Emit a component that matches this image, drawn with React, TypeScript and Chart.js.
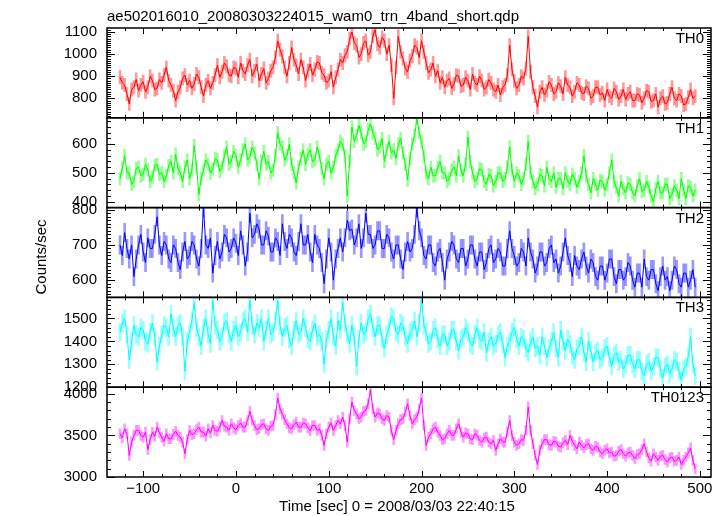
import React, { useEffect, useRef } from "react";
import { Chart, registerables } from "chart.js";

Chart.register(...registerables);

const chartTitle = "ae502016010_20080303224015_wam0_trn_4band_short.qdp";
const xTitle = "Time [sec] 0 = 2008/03/03 22:40:15";
const yTitle = "Counts/sec";

const times = [
  -125, -122.5, -120, -117.5, -115, -112.5, -110, -107.5, -105, -102.5, -100, -97.5, -95, -92.5, -90, -87.5, -85, -82.5, -80, -77.5,
  -75, -72.5, -70, -67.5, -65, -62.5, -60, -57.5, -55, -52.5, -50, -47.5, -45, -42.5, -40, -37.5, -35, -32.5, -30, -27.5,
  -25, -22.5, -20, -17.5, -15, -12.5, -10, -7.5, -5, -2.5, 0, 2.5, 5, 7.5, 10, 12.5, 15, 17.5, 20, 22.5,
  25, 27.5, 30, 32.5, 35, 37.5, 40, 42.5, 45, 47.5, 50, 52.5, 55, 57.5, 60, 62.5, 65, 67.5, 70, 72.5,
  75, 77.5, 80, 82.5, 85, 87.5, 90, 92.5, 95, 97.5, 100, 102.5, 105, 107.5, 110, 112.5, 115, 117.5, 120, 122.5,
  125, 127.5, 130, 132.5, 135, 137.5, 140, 142.5, 145, 147.5, 150, 152.5, 155, 157.5, 160, 162.5, 165, 167.5, 170, 172.5,
  175, 177.5, 180, 182.5, 185, 187.5, 190, 192.5, 195, 197.5, 200, 202.5, 205, 207.5, 210, 212.5, 215, 217.5, 220, 222.5,
  225, 227.5, 230, 232.5, 235, 237.5, 240, 242.5, 245, 247.5, 250, 252.5, 255, 257.5, 260, 262.5, 265, 267.5, 270, 272.5,
  275, 277.5, 280, 282.5, 285, 287.5, 290, 292.5, 295, 297.5, 300, 302.5, 305, 307.5, 310, 312.5, 315, 317.5, 320, 322.5,
  325, 327.5, 330, 332.5, 335, 337.5, 340, 342.5, 345, 347.5, 350, 352.5, 355, 357.5, 360, 362.5, 365, 367.5, 370, 372.5,
  375, 377.5, 380, 382.5, 385, 387.5, 390, 392.5, 395, 397.5, 400, 402.5, 405, 407.5, 410, 412.5, 415, 417.5, 420, 422.5,
  425, 427.5, 430, 432.5, 435, 437.5, 440, 442.5, 445, 447.5, 450, 452.5, 455, 457.5, 460, 462.5, 465, 467.5, 470, 472.5,
  475, 477.5, 480, 482.5, 485, 487.5, 490, 492.5, 495,
];

const th0 = [
  895, 870, 860, 820, 775, 840, 850, 885, 835, 860, 875, 830, 850, 900, 880, 840, 845, 885, 870, 905,
  940, 880, 860, 835, 790, 830, 850, 890, 905, 860, 880, 845, 865, 910, 895, 850, 810, 860, 880, 845,
  870, 905, 950, 895, 920, 960, 945, 905, 900, 940, 935, 895, 960, 925, 910, 950, 975, 900, 925, 955,
  880, 910, 935, 870, 890, 925, 940, 985, 1060, 1020, 990, 940, 900, 960, 1030, 975, 950, 910, 975, 940,
  880, 925, 955, 905, 930, 965, 960, 915, 905, 870, 880, 920, 850, 895, 930, 975, 960, 995, 1010, 1070,
  1100, 1050, 1040, 985, 1000, 1050, 1060, 995, 1010, 1080, 1110, 1045, 1030, 1075, 1060, 1000, 1040, 950, 800, 940,
  1080, 1010, 980, 935, 920, 970, 990, 1040, 1030, 985, 1060, 1010, 960, 915, 930, 960, 900, 925, 870, 895,
  850, 880, 890, 845, 865, 905, 900, 855, 860, 895, 880, 840, 910, 870, 860, 900, 880, 840, 850, 885,
  870, 840, 830, 860, 815, 850, 860, 905, 1040, 930, 880, 845, 860, 900, 890, 935, 1080, 920, 850, 810,
  760, 830, 850, 815, 835, 875, 860, 820, 830, 870, 855, 820, 895, 860, 850, 810, 830, 870, 860, 825,
  820, 855, 845, 800, 810, 850, 850, 815, 825, 790, 840, 810, 800, 845, 830, 795, 810, 840, 795, 820,
  830, 790, 790, 820, 815, 780, 800, 835, 830, 785, 790, 820, 760, 800, 810, 775, 780, 820, 850, 800,
  790, 820, 810, 770, 775, 805, 840, 800, 810,
];

const th1 = [
  480, 515, 560, 500, 500, 460, 470, 515, 520, 490, 495, 530, 510, 470, 485, 525, 530, 495, 500, 470,
  490, 525, 540, 500, 565, 515, 500, 470, 520, 545, 480, 510, 595, 520, 425, 480, 510, 545, 530, 500,
  515, 550, 545, 505, 520, 560, 590, 530, 540, 575, 560, 520, 545, 580, 600, 545, 555, 590, 570, 530,
  480, 540, 575, 530, 540, 500, 510, 560, 640, 600, 590, 545, 560, 600, 530, 500, 465, 520, 550, 580,
  530, 565, 580, 540, 545, 590, 560, 515, 480, 530, 540, 500, 520, 560, 580, 610, 600, 560, 420, 540,
  660, 610, 630, 665, 640, 600, 610, 650, 670, 640, 620, 580, 590, 620, 540, 580, 610, 570, 580, 550,
  600, 620, 570, 530, 475, 550, 600, 630, 690, 640, 610, 560, 500, 480, 520, 490, 490, 520, 540, 500,
  500, 470, 480, 510, 520, 490, 560, 510, 490, 530, 625, 540, 500, 470, 480, 515, 510, 470, 460, 495,
  490, 455, 470, 500, 500, 470, 480, 520, 590, 510, 470, 500, 490, 460, 480, 530, 610, 500, 470, 445,
  460, 495, 490, 455, 520, 480, 470, 500, 450, 480, 480, 445, 500, 470, 460, 495, 480, 450, 470, 500,
  560, 490, 460, 430, 480, 460, 440, 475, 470, 440, 460, 500, 545, 470, 450, 420, 470, 445, 430, 465,
  460, 430, 420, 455, 480, 435, 440, 470, 450, 420, 400, 445, 470, 430, 430, 460, 460, 410, 425, 455,
  440, 410, 480, 440, 410, 455, 450, 420, 440,
];

const th2 = [
  700, 670, 735, 690, 660, 700, 610, 660, 700, 730, 680, 650, 720, 690, 690, 730, 780, 700, 670, 710,
  700, 660, 650, 700, 690, 650, 630, 680, 710, 660, 670, 710, 700, 660, 640, 690, 805, 700, 690, 720,
  620, 670, 710, 660, 680, 730, 720, 680, 690, 720, 705, 670, 740, 700, 640, 680, 790, 720, 730, 760,
  745, 700, 700, 740, 725, 680, 680, 720, 710, 670, 760, 710, 690, 730, 720, 680, 670, 710, 760, 700,
  700, 730, 680, 650, 730, 700, 690, 650, 590, 660, 720, 680, 600, 660, 690, 720, 680, 720, 770, 740,
  745, 700, 720, 760, 690, 720, 790, 730, 730, 690, 700, 740, 740, 690, 690, 730, 720, 680, 660, 700,
  700, 660, 630, 680, 710, 680, 690, 730, 805, 740, 720, 670, 660, 700, 700, 650, 640, 680, 690, 650,
  600, 660, 680, 710, 700, 660, 650, 690, 690, 640, 660, 700, 700, 660, 640, 680, 680, 630, 650, 690,
  700, 650, 660, 690, 680, 640, 640, 690, 740, 690, 670, 640, 650, 690, 680, 640, 720, 680, 660, 620,
  640, 680, 680, 640, 650, 690, 700, 650, 660, 620, 640, 680, 720, 670, 650, 610, 670, 640, 630, 660,
  680, 640, 620, 660, 650, 610, 600, 640, 640, 600, 620, 660, 660, 610, 590, 630, 630, 600, 610, 650,
  640, 600, 580, 620, 620, 580, 660, 610, 600, 630, 630, 590, 570, 610, 640, 600, 610, 570, 600, 640,
  630, 590, 580, 620, 620, 580, 600, 630, 580,
];

const th3 = [
  1440, 1480, 1500, 1430, 1320, 1400, 1470, 1430, 1420, 1460, 1450, 1400, 1390, 1440, 1480, 1420, 1310, 1380, 1430, 1470,
  1460, 1420, 1520, 1460, 1420, 1470, 1480, 1420, 1270, 1400, 1440, 1490, 1570, 1460, 1420, 1380, 1460, 1500, 1430, 1390,
  1580, 1470, 1450, 1400, 1420, 1480, 1490, 1430, 1400, 1450, 1470, 1420, 1440, 1490, 1500, 1440, 1580, 1470, 1430, 1480,
  1460, 1500, 1400, 1450, 1500, 1430, 1440, 1490, 1580, 1470, 1420, 1460, 1470, 1410, 1380, 1450, 1490, 1430, 1440, 1500,
  1460, 1410, 1400, 1450, 1480, 1420, 1430, 1400, 1300, 1410, 1450, 1500, 1420, 1380, 1490, 1450, 1570, 1480, 1430, 1390,
  1470, 1420, 1290, 1410, 1480, 1430, 1440, 1500, 1520, 1460, 1420, 1470, 1470, 1410, 1370, 1430, 1460, 1510, 1500, 1440,
  1430, 1480, 1470, 1420, 1390, 1440, 1450, 1490, 1420, 1480, 1590, 1470, 1440, 1390, 1400, 1450, 1460, 1410, 1380, 1430,
  1430, 1380, 1400, 1450, 1450, 1400, 1360, 1410, 1420, 1460, 1440, 1390, 1380, 1430, 1460, 1410, 1400, 1440, 1350, 1400,
  1420, 1380, 1390, 1430, 1440, 1390, 1330, 1380, 1400, 1440, 1460, 1410, 1380, 1420, 1410, 1370, 1350, 1400, 1420, 1370,
  1380, 1340, 1420, 1380, 1330, 1370, 1400, 1440, 1370, 1330, 1450, 1400, 1360, 1410, 1390, 1340, 1320, 1370, 1380, 1420,
  1350, 1310, 1400, 1360, 1310, 1350, 1360, 1320, 1330, 1370, 1380, 1330, 1290, 1340, 1350, 1310, 1320, 1280, 1300, 1340,
  1340, 1300, 1280, 1320, 1320, 1270, 1250, 1300, 1310, 1270, 1290, 1330, 1330, 1280, 1240, 1290, 1300, 1260, 1280, 1320,
  1310, 1270, 1230, 1280, 1290, 1330, 1420, 1300, 1250,
];

const th0123 = [
  3520, 3470, 3580, 3520, 3260, 3420, 3500, 3560, 3560, 3500, 3480, 3540, 3330, 3450, 3540, 3490, 3600, 3530, 3480, 3430,
  3520, 3460, 3460, 3510, 3550, 3500, 3480, 3420, 3280, 3450, 3560, 3510, 3520, 3570, 3600, 3540, 3540, 3490, 3580, 3530,
  3620, 3560, 3550, 3600, 3680, 3610, 3600, 3560, 3640, 3590, 3570, 3620, 3650, 3600, 3600, 3680, 3790, 3680, 3620, 3570,
  3580, 3630, 3640, 3580, 3560, 3610, 3620, 3750, 3950, 3820, 3760, 3690, 3640, 3590, 3580, 3630, 3660, 3600, 3600, 3650,
  3640, 3590, 3560, 3620, 3620, 3560, 3580, 3500, 3380, 3520, 3600, 3650, 3560, 3620, 3680, 3640, 3720, 3620, 3420, 3700,
  3900, 3800, 3760, 3700, 3720, 3790, 3800, 3880, 4050, 3820, 3720, 3770, 3760, 3700, 3680, 3740, 3720, 3560, 3450, 3560,
  3640, 3690, 3700, 3780, 3880, 3740, 3640, 3690, 3720, 3820, 3950, 3620, 3380, 3480, 3520, 3580, 3600, 3540, 3500, 3450,
  3460, 3520, 3560, 3500, 3500, 3580, 3640, 3540, 3480, 3530, 3520, 3460, 3450, 3520, 3500, 3440, 3420, 3470, 3480, 3420,
  3400, 3440, 3320, 3400, 3460, 3420, 3420, 3540, 3680, 3500, 3420, 3380, 3400, 3450, 3440, 3560, 3840, 3560, 3400, 3260,
  3150, 3320, 3400, 3450, 3450, 3390, 3380, 3430, 3420, 3370, 3360, 3410, 3440, 3390, 3500, 3430, 3380, 3340, 3420, 3380,
  3350, 3390, 3400, 3340, 3320, 3370, 3360, 3300, 3280, 3320, 3340, 3290, 3300, 3250, 3260, 3310, 3330, 3280, 3250, 3290,
  3300, 3260, 3220, 3270, 3280, 3330, 3400, 3300, 3230, 3190, 3280, 3240, 3200, 3250, 3260, 3210, 3180, 3230, 3240, 3190,
  3200, 3240, 3150, 3200, 3240, 3290, 3350, 3200, 3100,
];

const panelLabels = ["TH0", "TH1", "TH2", "TH3", "TH0123"];
const series = [th0, th1, th2, th3, th0123];
const errors = [30, 22, 26, 38, 60];
const lineColors = ["#ff0000", "#00ff00", "#0000ff", "#00ffff", "#ff00ff"];
const errColors = [
  "rgba(255,0,0,0.4)",
  "rgba(0,255,0,0.4)",
  "rgba(0,0,255,0.4)",
  "rgba(0,255,255,0.4)",
  "rgba(255,0,255,0.4)",
];
const yMins = [712, 379, 551, 1200, 3000];
const yMaxs = [1118, 692, 806, 1592, 4080];
const yTickLabels = [
  [800, 900, 1000, 1100],
  [400, 500, 600],
  [600, 700, 800],
  [1200, 1300, 1400, 1500],
  [3000, 3500, 4000],
];
const yMajor = [100, 100, 100, 100, 500];
const yMinor = [10, 20, 10, 20, 100];
const xTickLabels = [-100, 0, 100, 200, 300, 400, 500];
const xMin = -139;
const xMax = 512;
const xMajor = 100;
const xMinor = 20;

const FONT = '"Liberation Sans", Arial, Helvetica, sans-serif';

const panelPlugin = {
  id: "qdpPanels",
  afterDatasetsDraw(chart: any) {
    const ctx = chart.ctx as CanvasRenderingContext2D;
    const { left, right } = chart.chartArea;
    const xs = chart.scales.x;
    ctx.save();
    ctx.strokeStyle = "#000";
    ctx.fillStyle = "#000";
    for (let i = 0; i < 5; i++) {
      const ys = chart.scales["y" + i];
      const top = ys.top;
      const bottom = ys.bottom;
      ctx.lineWidth = 1;
      ctx.beginPath();
      const mn = yMinor[i];
      for (let v = Math.ceil(ys.min / mn) * mn; v <= ys.max; v += mn) {
        const p = Math.round(ys.getPixelForValue(v)) + 0.5;
        const len = v % yMajor[i] === 0 ? 8 : 4;
        ctx.moveTo(left, p);
        ctx.lineTo(left + len, p);
        ctx.moveTo(right, p);
        ctx.lineTo(right - len, p);
      }
      for (let t = Math.ceil(xs.min / xMinor) * xMinor; t <= xs.max; t += xMinor) {
        const p = Math.round(xs.getPixelForValue(t)) + 0.5;
        const len = t % xMajor === 0 ? 6 : 3;
        ctx.moveTo(p, top);
        ctx.lineTo(p, top + len);
        ctx.moveTo(p, bottom);
        ctx.lineTo(p, bottom - len);
      }
      ctx.stroke();
      ctx.lineWidth = 1.5;
      ctx.strokeRect(left, top, right - left, bottom - top);
      ctx.font = `15px ${FONT}`;
      ctx.textAlign = "right";
      ctx.textBaseline = "alphabetic";
      ctx.fillText(panelLabels[i], right - 7, top + 15);
    }
    ctx.font = `15px ${FONT}`;
    ctx.textAlign = "left";
    ctx.textBaseline = "alphabetic";
    ctx.fillText(chartTitle, left, 21);
    ctx.textAlign = "center";
    ctx.textBaseline = "middle";
    ctx.fillText(xTitle, 397, 507);
    ctx.save();
    ctx.translate(42, 257);
    ctx.rotate(-Math.PI / 2);
    ctx.fillText(yTitle, 0, 0);
    ctx.restore();
    ctx.restore();
  },
};

function buildConfig(): any {
  const datasets: any[] = [];
  for (let i = 0; i < 5; i++) {
    const vals = series[i];
    const n = Math.min(vals.length, times.length);
    const idx = Array.from({ length: n }, (_, j) => j);
    datasets.push({
      type: "bar",
      data: idx.map((j) => ({ x: times[j], y: [vals[j] - errors[i], vals[j] + errors[i]] })),
      yAxisID: "y" + i,
      xAxisID: "x",
      backgroundColor: errColors[i],
      borderWidth: 0,
      barThickness: 2,
      grouped: false,
      order: 2,
    });
    datasets.push({
      type: "line",
      data: idx.map((j) => ({ x: times[j], y: vals[j] })),
      yAxisID: "y" + i,
      xAxisID: "x",
      borderColor: lineColors[i],
      borderWidth: 1,
      pointRadius: 0,
      tension: 0,
      fill: false,
      order: 1,
    });
  }

  const scales: any = {
    x: {
      type: "linear",
      position: "bottom",
      min: xMin,
      max: xMax,
      offset: false,
      grid: { display: false, drawTicks: false },
      border: { display: false },
      afterBuildTicks: (s: any) => {
        s.ticks = xTickLabels.map((v) => ({ value: v }));
      },
      ticks: {
        autoSkip: false,
        maxRotation: 0,
        padding: 3,
        color: "#000",
        font: { family: FONT, size: 15 },
        callback: (v: number) => (v < 0 ? "\u2212" + Math.abs(v) : String(v)),
      },
      afterFit: (s: any) => {
        s.height = 39;
      },
    },
  };
  // declared bottom-first so that y0 lands on top of the stack
  for (let i = 4; i >= 0; i--) {
    const k = i;
    scales["y" + k] = {
      type: "linear",
      position: "left",
      stack: "panels",
      stackWeight: 1,
      min: yMins[k],
      max: yMaxs[k],
      grid: { display: false, drawTicks: false },
      border: { display: false },
      afterBuildTicks: (s: any) => {
        s.ticks = yTickLabels[k].map((v) => ({ value: v }));
      },
      ticks: {
        autoSkip: false,
        padding: 10,
        color: "#000",
        font: { family: FONT, size: 15 },
        callback: (v: number) => String(v),
      },
      afterFit: (s: any) => {
        s.width = 107;
      },
    };
  }

  return {
    type: "line",
    data: { datasets },
    options: {
      responsive: false,
      animation: false,
      events: [],
      layout: { padding: { top: 28, right: 15, left: 0, bottom: 0 } },
      plugins: { legend: { display: false }, tooltip: { enabled: false }, title: { display: false } },
      scales,
    },
    plugins: [panelPlugin],
  };
}

export default function App() {
  const ref = useRef<HTMLCanvasElement>(null);
  useEffect(() => {
    if (!ref.current) return;
    const chart = new Chart(ref.current, buildConfig());
    return () => chart.destroy();
  }, []);
  return (
    <div style={{ position: "fixed", left: 0, top: 0, width: 726, height: 516, background: "#fff" }}>
      <canvas ref={ref} width={726} height={516} style={{ width: 726, height: 516, display: "block" }} />
    </div>
  );
}
